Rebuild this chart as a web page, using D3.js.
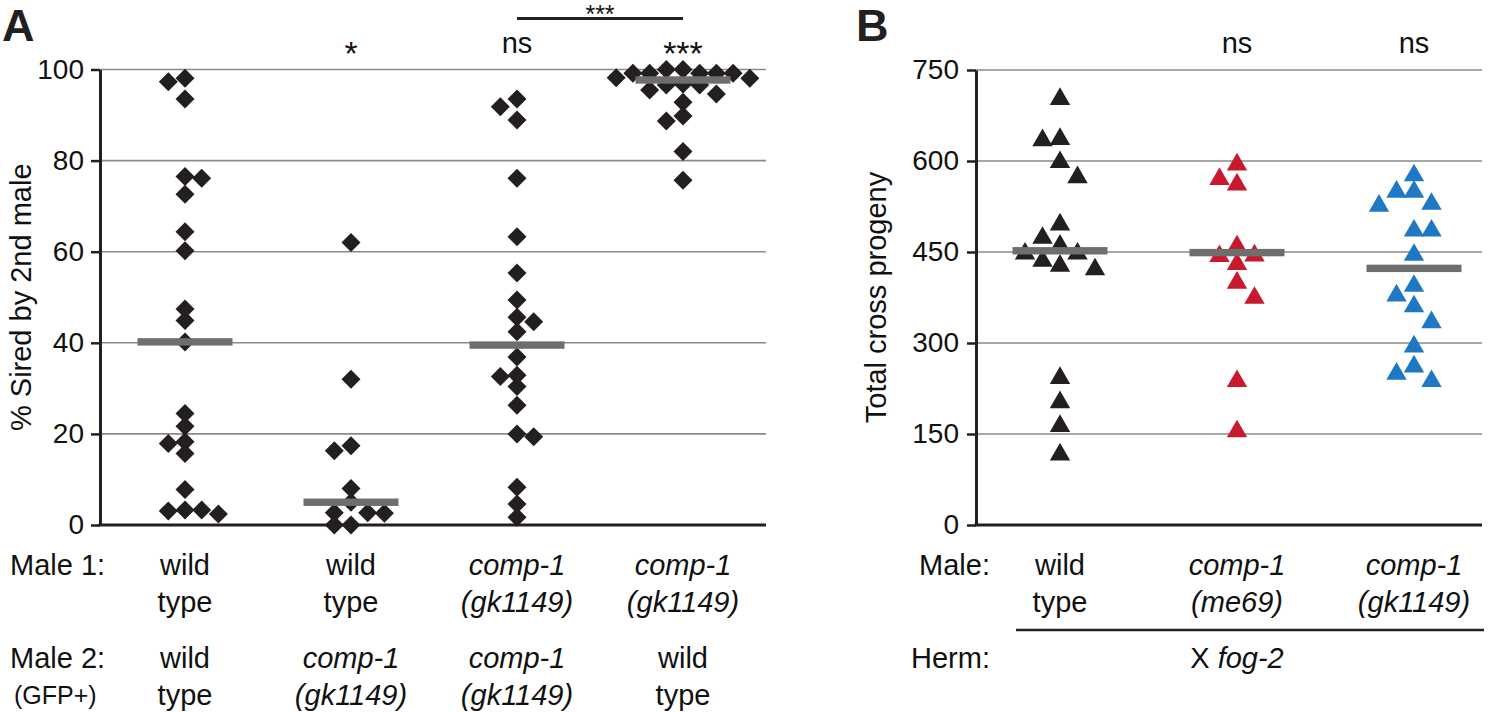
<!DOCTYPE html>
<html>
<head>
<meta charset="utf-8">
<script src="https://cdn.jsdelivr.net/npm/d3@7"></script>
<style>
  html, body { margin: 0; padding: 0; background: #fff; }
  svg { display: block; font-family: "Liberation Sans", Arial, Helvetica, sans-serif; }
</style>
</head>
<body>
<svg id="chart" width="1500" height="712"></svg>
<script>
// Panel A: % of progeny sired by the 2nd male, one array per male1/male2 pairing
const groupsA = ['wt/wt', 'wt/gk1149', 'gk1149/gk1149', 'gk1149/wt'];
const siredWtWt = [98.1, 97.3, 93.5, 76.5, 76.1, 72.6, 64.4, 60.2, 47.4, 44.9, 40.2,
                   24.5, 21.7, 18.3, 17.9, 15.7, 7.8, 3.3, 3.3, 3.1, 2.4];
const siredWtGk = [62.0, 32.0, 17.4, 16.3, 8.0, 5.0, 2.7, 2.7, 2.6, 0, 0];
const siredGkGk = [93.5, 91.8, 88.9, 76.1, 63.3, 55.3, 49.4, 45.6, 44.6, 42.4, 36.9,
                   32.9, 32.6, 30.4, 26.3, 20.0, 19.4, 8.3, 4.6, 1.7];
const siredGkWt = [100, 100, 99.2, 99.2, 99.2, 99.2, 99.2, 98.2, 98.1, 96.8, 96.6,
                   96.6, 95.5, 94.6, 92.8, 89.8, 88.7, 82.0, 75.7];
const medianA = [40.2, 5.0, 39.5, 97.7];
const sigA = ['', '*', 'ns', '***'];
const ticksA = [0, 20, 40, 60, 80, 100];
const male1A = [['wild', 'type'], ['wild', 'type'], ['comp-1', '(gk1149)'], ['comp-1', '(gk1149)']];
const male2A = [['wild', 'type'], ['comp-1', '(gk1149)'], ['comp-1', '(gk1149)'], ['wild', 'type']];

// Panel B: total cross progeny per male genotype (x fog-2 hermaphrodites)
const groupsB = ['wild type', 'comp-1(me69)', 'comp-1(gk1149)'];
const progenyWt = [707, 641, 639, 603, 578, 500, 478, 465, 452, 452, 440, 432, 426, 247, 207, 168, 121];
const progenyMe69 = [599, 575, 566, 464, 449, 448, 435, 404, 379, 242, 159];
const progenyGk = [581, 554, 554, 534, 531, 490, 490, 450, 399, 383, 365, 339, 299, 266, 254, 242];
const medianB = [452, 449, 423];
const sigB = ['', 'ns', 'ns'];
const ticksB = [0, 150, 300, 450, 600, 750];
const colorsB = ['#231f20', '#c8192e', '#1f78c3'];
const maleB = [['wild', 'type'], ['comp-1', '(me69)'], ['comp-1', '(gk1149)']];

const dataA = [siredWtWt, siredWtGk, siredGkGk, siredGkWt];
const dataB = [progenyWt, progenyMe69, progenyGk];

const ink = '#231f20';
const gridColor = '#8a8a8a';
const barColor = '#6e6e6e';
const fontSize = 29;

const svg = d3.select('#chart');

// simple dodge: put each point in the middle slot unless it would sit on top of another one
function dodge(values, y, step, minDist) {
    const placed = [];
    let left = 0, right = 0;
    values.slice().sort((a, b) => b - a).forEach(v => {
        const py = y(v);
        for (let r = 0; ; r++) {
            const cands = r === 0 ? [0] : (left <= right ? [-r, r] : [r, -r]);
            const k = cands.find(k => placed.every(p => Math.abs(p.k - k) * step + Math.abs(p.y - py) >= minDist));
            if (k !== undefined) {
                if (k < 0) left++;
                else if (k > 0) right++;
                placed.push({ v, y: py, k });
                break;
            }
        }
    });
    return placed;
}

function styleAxis(g) {
    g.attr('font-size', 28).attr('font-family', null);
    g.select('.domain').attr('stroke', ink).attr('stroke-width', 3);
    g.selectAll('.tick line').attr('stroke', ink).attr('stroke-width', 2.5);
    g.selectAll('.tick text').attr('fill', '#111');
}

const isItalic = t => t !== 'wild' && t !== 'type';

function columnLabels(rows, x, keys, y0) {
    rows.forEach((lines, i) => {
        lines.forEach((t, j) => {
            svg.append('text')
                .attr('x', x(keys[i]))
                .attr('y', y0 + j * 37)
                .attr('text-anchor', 'middle')
                .attr('font-size', fontSize)
                .attr('font-style', isItalic(t) ? 'italic' : 'normal')
                .attr('fill', '#111')
                .text(t);
        });
    });
}

// ---------- Panel A ----------
const leftA = 100, rightA = 766;
const xA = d3.scalePoint().domain(groupsA).range([185, 683]);
const yA = d3.scaleLinear().domain([0, 100]).range([525, 69.5]);

svg.append('g').selectAll('line')
    .data(ticksA.filter(t => t > 0))
    .join('line')
    .attr('x1', leftA).attr('x2', rightA)
    .attr('y1', d => yA(d)).attr('y2', d => yA(d))
    .attr('stroke', gridColor).attr('stroke-width', 1.6);

const diamond = 'M0,-9.5L9.5,0L0,9.5L-9.5,0Z';
dataA.forEach((vals, i) => {
    const pts = dodge(vals, yA, 16.7, 11);
    svg.append('g').selectAll('path')
        .data(pts)
        .join('path')
        .attr('d', diamond)
        .attr('transform', d => `translate(${xA(groupsA[i]) + d.k * 16.7},${d.y})`)
        .attr('fill', ink);
});

svg.append('g').selectAll('rect')
    .data(medianA)
    .join('rect')
    .attr('x', (d, i) => xA(groupsA[i]) - 47.5)
    .attr('y', d => yA(d) - 3.7)
    .attr('width', 95).attr('height', 7.4)
    .attr('fill', barColor);

svg.append('line')
    .attr('x1', leftA - 1.5).attr('x2', rightA)
    .attr('y1', yA(0)).attr('y2', yA(0))
    .attr('stroke', ink).attr('stroke-width', 3);

svg.append('g')
    .attr('transform', `translate(${leftA},0)`)
    .call(d3.axisLeft(yA).tickValues(ticksA).tickSize(9).tickSizeOuter(0).tickPadding(7))
    .call(styleAxis);

svg.append('text')
    .attr('transform', `translate(31,${(yA(0) + yA(100)) / 2}) rotate(-90)`)
    .attr('text-anchor', 'middle')
    .attr('font-size', fontSize)
    .attr('fill', '#111')
    .text('% Sired by 2nd male');

svg.append('text')
    .attr('x', 2).attr('y', 41)
    .attr('font-size', 45).attr('font-weight', 'bold')
    .attr('fill', ink)
    .text('A');

// significance marks
sigA.forEach((s, i) => {
    if (!s) return;
    svg.append('text')
        .attr('x', xA(groupsA[i]))
        .attr('y', s === 'ns' ? 53 : 65)
        .attr('text-anchor', 'middle')
        .attr('font-size', s === 'ns' ? fontSize : 34)
        .attr('fill', '#111')
        .text(s);
});
svg.append('line')
    .attr('x1', xA(groupsA[2])).attr('x2', xA(groupsA[3]))
    .attr('y1', 18.5).attr('y2', 18.5)
    .attr('stroke', ink).attr('stroke-width', 3);
svg.append('text')
    .attr('x', (xA(groupsA[2]) + xA(groupsA[3])) / 2)
    .attr('y', 23)
    .attr('text-anchor', 'middle')
    .attr('font-size', 25)
    .attr('fill', '#111')
    .text('***');

// row labels under panel A
svg.append('text').attr('x', 10).attr('y', 575).attr('font-size', fontSize).attr('fill', '#111').text('Male 1:');
svg.append('text').attr('x', 10).attr('y', 668).attr('font-size', fontSize).attr('fill', '#111').text('Male 2:');
svg.append('text').attr('x', 14).attr('y', 704).attr('font-size', 25).attr('fill', '#111').text('(GFP+)');
columnLabels(male1A, xA, groupsA, 575);
columnLabels(male2A, xA, groupsA, 668);

// ---------- Panel B ----------
const leftB = 976, rightB = 1482;
const xB = d3.scalePoint().domain(groupsB).range([1060, 1414]);
const yB = d3.scaleLinear().domain([0, 750]).range([525, 70]);

svg.append('g').selectAll('line')
    .data(ticksB.filter(t => t > 0))
    .join('line')
    .attr('x1', leftB).attr('x2', rightB)
    .attr('y1', d => yB(d)).attr('y2', d => yB(d))
    .attr('stroke', gridColor).attr('stroke-width', 1.6);

const triangle = 'M0,-8.8L10.2,8.8L-10.2,8.8Z';
dataB.forEach((vals, i) => {
    const pts = dodge(vals, yB, 17.5, 16);
    svg.append('g').selectAll('path')
        .data(pts)
        .join('path')
        .attr('d', triangle)
        .attr('transform', d => `translate(${xB(groupsB[i]) + d.k * 17.5},${d.y})`)
        .attr('fill', colorsB[i]);
});

svg.append('g').selectAll('rect')
    .data(medianB)
    .join('rect')
    .attr('x', (d, i) => xB(groupsB[i]) - 47.5)
    .attr('y', d => yB(d) - 3.7)
    .attr('width', 95).attr('height', 7.4)
    .attr('fill', barColor);

svg.append('line')
    .attr('x1', leftB - 1.5).attr('x2', rightB)
    .attr('y1', yB(0)).attr('y2', yB(0))
    .attr('stroke', ink).attr('stroke-width', 3);

svg.append('g')
    .attr('transform', `translate(${leftB},0)`)
    .call(d3.axisLeft(yB).tickValues(ticksB).tickSize(9).tickSizeOuter(0).tickPadding(8))
    .call(styleAxis);

svg.append('text')
    .attr('transform', `translate(886,${(yB(0) + yB(750)) / 2}) rotate(-90)`)
    .attr('text-anchor', 'middle')
    .attr('font-size', fontSize)
    .attr('fill', '#111')
    .text('Total cross progeny');

svg.append('text')
    .attr('x', 856).attr('y', 41)
    .attr('font-size', 45).attr('font-weight', 'bold')
    .attr('fill', ink)
    .text('B');

sigB.forEach((s, i) => {
    if (!s) return;
    svg.append('text')
        .attr('x', xB(groupsB[i]))
        .attr('y', 53)
        .attr('text-anchor', 'middle')
        .attr('font-size', fontSize)
        .attr('fill', '#111')
        .text(s);
});

svg.append('text').attr('x', 990).attr('y', 575).attr('text-anchor', 'end').attr('font-size', fontSize).attr('fill', '#111').text('Male:');
columnLabels(maleB, xB, groupsB, 575);
svg.append('line')
    .attr('x1', 1016).attr('x2', 1484)
    .attr('y1', 630).attr('y2', 630)
    .attr('stroke', ink).attr('stroke-width', 2.5);
svg.append('text').attr('x', 990).attr('y', 668).attr('text-anchor', 'end').attr('font-size', fontSize).attr('fill', '#111').text('Herm:');
const herm = svg.append('text')
    .attr('x', xB(groupsB[1]))
    .attr('y', 668)
    .attr('text-anchor', 'middle')
    .attr('font-size', fontSize)
    .attr('fill', '#111');
herm.append('tspan').text('X ');
herm.append('tspan').attr('font-style', 'italic').text('fog-2');
</script>
</body>
</html>
